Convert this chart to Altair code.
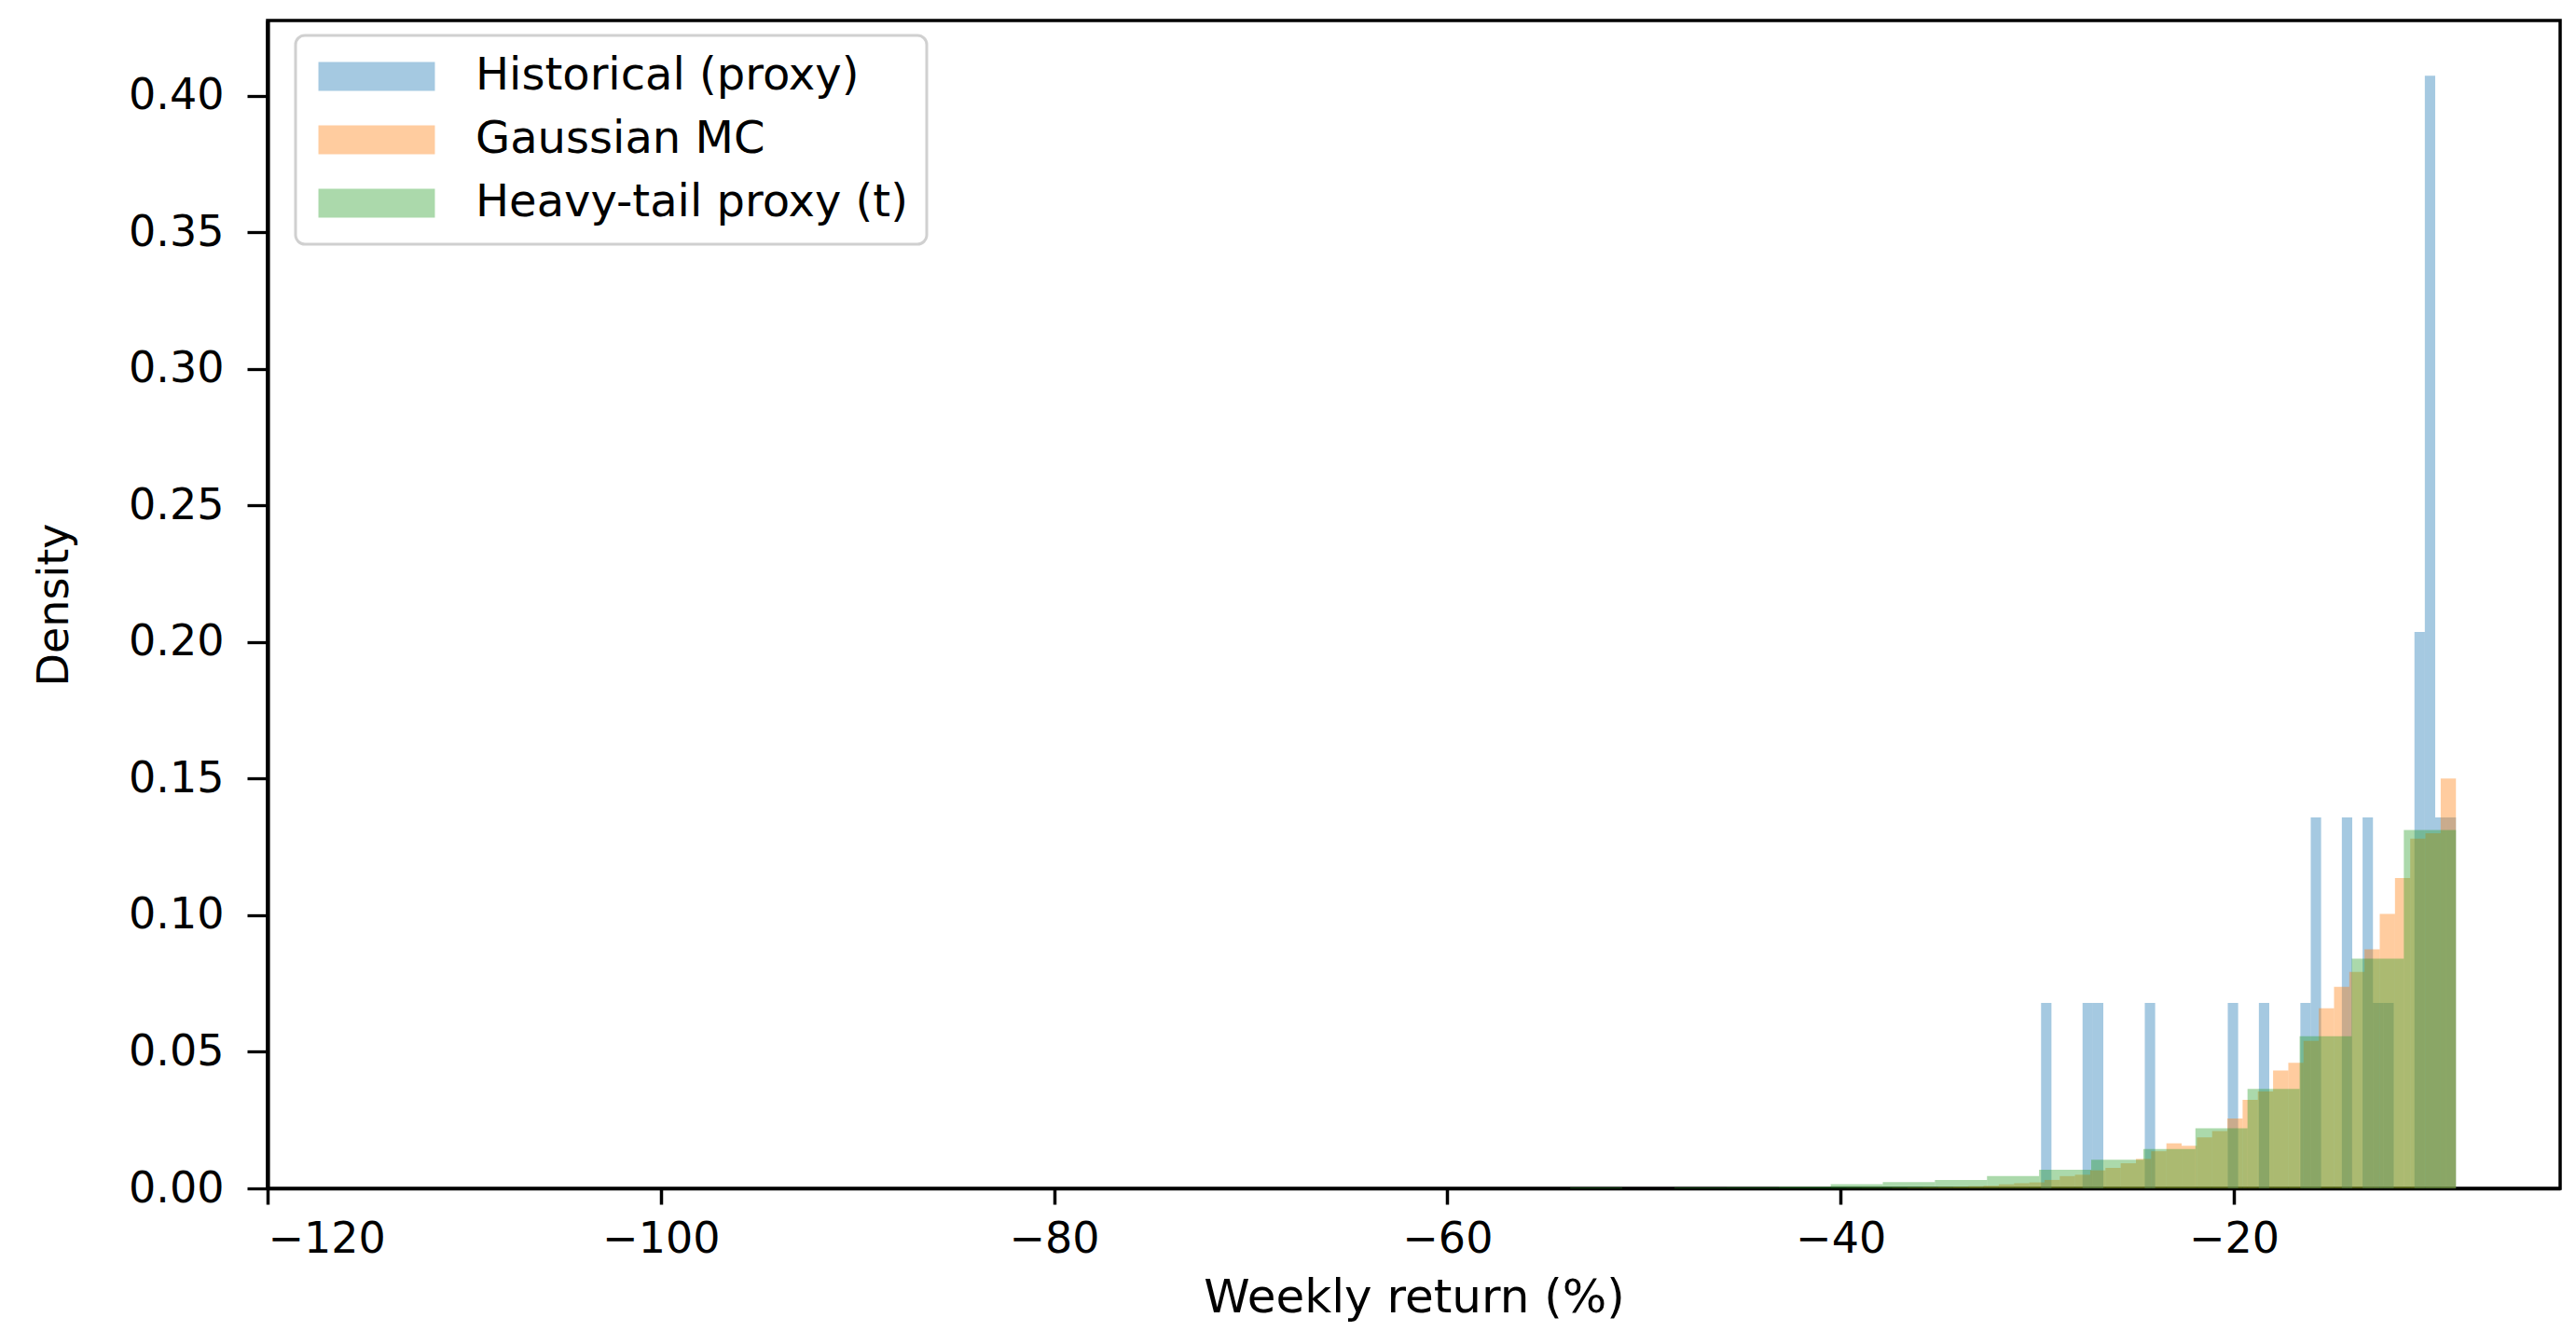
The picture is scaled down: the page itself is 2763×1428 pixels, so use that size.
import altair as alt
import numpy as np
import pandas as pd

# ---- data ----
series_names = ["Historical (proxy)", "Gaussian MC", "Heavy-tail proxy (t)"]
series_colors = ["#1f77b4", "#ff7f0e", "#2ca02c"]

# Historical (proxy): 40 bins starting at -29.80, width 0.5275
hist_start = -29.80
hist_width = 0.5275
hist_density = [0.0679, 0, 0, 0, 0.0679, 0.0679, 0, 0, 0, 0,
                0.0679, 0, 0, 0, 0, 0, 0, 0, 0.0679, 0,
                0, 0.0679, 0, 0, 0, 0.0679, 0.1358, 0, 0, 0.1358,
                0, 0.1358, 0.0679, 0.0679, 0, 0, 0.2037, 0.4073, 0.1358, 0.1358]

# Gaussian MC: 40 bins starting at -39.70, width 0.775
gauss_start = -39.70
gauss_width = 0.775
gauss_density = [0.00005, 0.0001, 0.0001, 0.0002, 0.0003, 0.0004, 0.0005, 0.0006, 0.0008, 0.0010,
                 0.0015, 0.0019, 0.0022, 0.0031, 0.0045, 0.0050, 0.0066, 0.0075, 0.0092, 0.0108,
                 0.0136, 0.0165, 0.0156, 0.0187, 0.0210, 0.0256, 0.0324, 0.0355, 0.0432, 0.0460,
                 0.0540, 0.0659, 0.0738, 0.0792, 0.0875, 0.1005, 0.1136, 0.1280, 0.1300, 0.1500]

# Heavy-tail proxy (t): 40 bins starting at -114.70, width 2.65
heavy_start = -114.70
heavy_width = 2.65
heavy_density = [0, 0, 0, 0, 0, 0, 0, 0, 0, 0,
                 0, 0, 0, 0, 0, 0, 0, 0, 0, 0,
                 0, 0, 0, 0.0003, 0, 0.0003, 0.0004, 0.0006, 0.0015, 0.0023,
                 0.0031, 0.0045, 0.0068, 0.0105, 0.0144, 0.0220, 0.0364, 0.0557, 0.0841, 0.1312]

x_ticks = [-120, -100, -80, -60, -40, -20]
y_ticks = [0.0, 0.05, 0.10, 0.15, 0.20, 0.25, 0.30, 0.35, 0.40]

# ---- build histogram table ----
rows = []
for name, start, width, dens in [
    (series_names[0], hist_start, hist_width, hist_density),
    (series_names[1], gauss_start, gauss_width, gauss_density),
    (series_names[2], heavy_start, heavy_width, heavy_density),
]:
    edges = start + width * np.arange(len(dens) + 1)
    for i, d in enumerate(dens):
        if d > 0:
            rows.append({"series": name, "x0": float(edges[i]), "x1": float(edges[i + 1]), "density": d})
df = pd.DataFrame(rows)

FONT = "DejaVu Sans"

axis_style = dict(grid=False, labelFont=FONT, titleFont=FONT, titleFontWeight="normal",
                  labelColor="black", titleColor="black", tickColor="black",
                  domainColor="black")

chart = alt.Chart(df).mark_rect(opacity=0.4, strokeWidth=0).encode(
    x=alt.X("x0:Q",
            scale=alt.Scale(domain=[-120.0, -3.4], nice=False, zero=False),
            axis=alt.Axis(values=x_ticks, format="d", title="Weekly return (%)",
                          tickSize=17, tickWidth=3.5, domainWidth=3.3,
                          labelFontSize=46, labelPadding=15,
                          titleFontSize=50, titlePadding=15, **axis_style)),
    x2="x1:Q",
    y=alt.Y("density:Q",
            scale=alt.Scale(domain=[0, 0.4275], nice=False),
            axis=alt.Axis(values=y_ticks, format=".2f", title="Density",
                          tickSize=22, tickWidth=3.3, domainWidth=4.2,
                          labelFontSize=46, labelPadding=25,
                          titleFontSize=46, titlePadding=55, **axis_style)),
    y2=alt.Y2(datum=0),
    color=alt.Color("series:N",
                    scale=alt.Scale(domain=series_names, range=series_colors),
                    legend=alt.Legend(title=None, orient="none", legendX=30, legendY=16,
                                      symbolType="M-4.03,-1H4.03V1H-4.03Z",
                                      symbolSize=961, symbolOffset=43,
                                      symbolOpacity=0.4, symbolStrokeWidth=0,
                                      labelOffset=82, labelFontSize=48,
                                      labelFont=FONT, labelColor="black",
                                      labelLimit=2000, rowPadding=20,
                                      padding=20, cornerRadius=10,
                                      strokeColor="#d0d0d0", fillColor="white")),
).properties(
    width=2459,
    height=1253,
    background="white",
    autosize=alt.AutoSizeParams(type="none"),
    padding={"left": 279, "top": 14, "right": 9, "bottom": 145},
).configure_legend(
    strokeWidth=3,
).configure_view(
    stroke="black", strokeWidth=3.5,
)

chart.save("out.html", embed_options={"renderer": "svg", "actions": False})
